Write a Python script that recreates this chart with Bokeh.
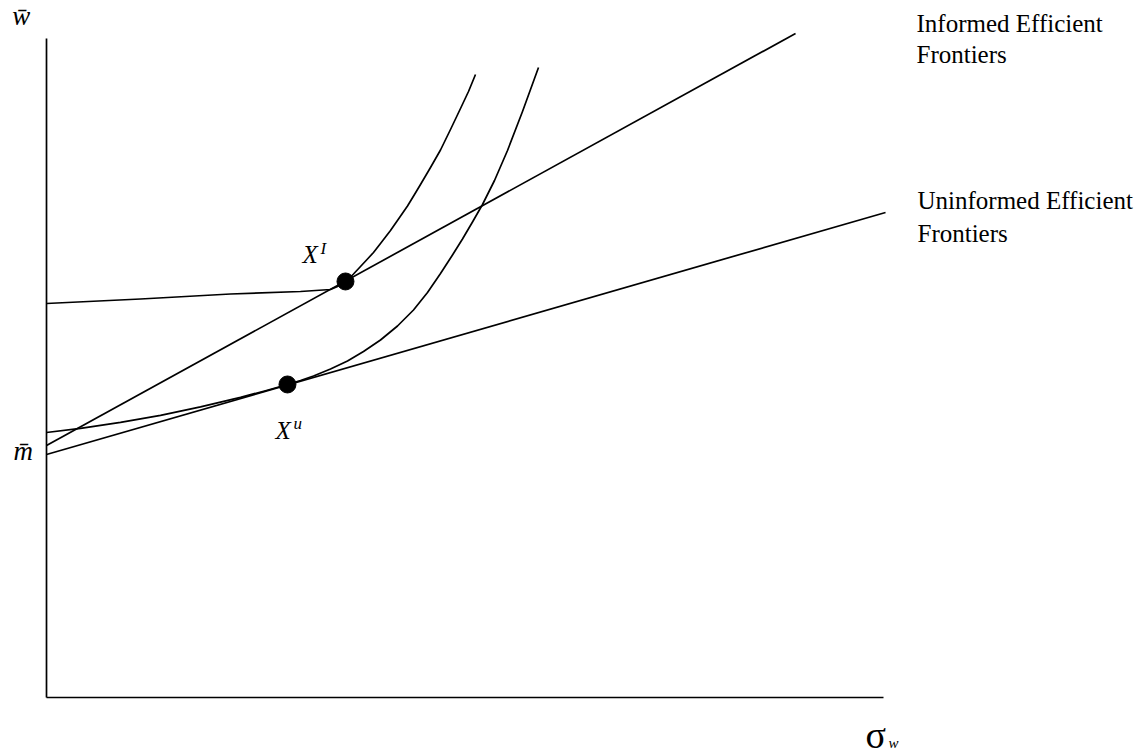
from bokeh.plotting import figure
from bokeh.models import Range1d, Label
from bokeh.embed import file_html
from bokeh.resources import INLINE

# ---- data (arbitrary units: axes span 0..100) ----
axis_sigma = [0, 100]
axis_mean = [0, 100]

informed_sigma = [0, 11.231, 21.983, 30.346, 33.931, 34.767, 35.723, 36.201, 36.679, 37.515,
                  38.351, 39.068, 39.904, 41.099, 42.055, 43.130, 43.966, 44.683, 45.878,
                  47.073, 48.267, 49.462, 50.418, 51.254]
informed_mean = [59.788, 60.470, 61.229, 61.608, 61.912, 62.367, 63.126, 63.657, 64.264, 65.402,
                 66.540, 67.527, 68.892, 70.865, 72.610, 74.583, 76.328, 77.845, 80.425,
                 83.080, 86.191, 89.378, 91.957, 94.537]

uninformed_sigma = [0, 4.062, 8.841, 13.620, 18.399, 23.178, 26.165, 28.793, 30.346, 31.900,
                    33.931, 35.962, 37.873, 39.904, 41.935, 43.847, 45.520, 47.073, 48.506,
                    49.701, 50.896, 52.091, 53.525, 55.078, 56.870, 58.781]
uninformed_mean = [40.212, 40.834, 41.745, 42.822, 44.097, 45.539, 46.555, 47.496, 48.103, 48.786,
                   49.848, 51.062, 52.504, 54.249, 56.373, 58.801, 61.457, 64.340, 67.147,
                   69.575, 72.155, 74.810, 78.452, 83.005, 88.923, 95.599]

informed_line_sigma = [0, 89.49]
informed_line_mean = [38.24, 100.76]

uninformed_line_sigma = [0, 100.24]
uninformed_line_mean = [36.87, 73.60]

tangency_sigma = [35.72, 28.79]
tangency_mean = [63.13, 47.50]

FONT = "Liberation Serif"

p = figure(width=1148, height=756, output_backend="svg", toolbar_location=None,
           x_range=Range1d(-5.496, 131.660), y_range=Range1d(-8.953, 105.766),
           min_border=0, outline_line_color=None)
p.axis.visible = False
p.grid.visible = False
p.background_fill_color = "white"
p.border_fill_color = "white"

lw = 1.7
# axes
p.line([axis_sigma[0], axis_sigma[0]], [axis_mean[0], axis_mean[1]], line_color="black", line_width=lw)
p.line([axis_sigma[0], axis_sigma[1]], [axis_mean[0], axis_mean[0]], line_color="black", line_width=lw)

# frontiers
p.line(informed_sigma, informed_mean, line_color="black", line_width=lw, line_join="round")
p.line(uninformed_sigma, uninformed_mean, line_color="black", line_width=lw, line_join="round")
p.line(informed_line_sigma, informed_line_mean, line_color="black", line_width=lw)
p.line(uninformed_line_sigma, uninformed_line_mean, line_color="black", line_width=lw)

p.scatter(tangency_sigma, tangency_mean, size=17, color="black")

def lab(x, y, text, size, style="normal"):
    p.add_layout(Label(x=x, y=y, text=text, text_font=FONT, text_font_size=size,
                       text_font_style=style, text_color="black",
                       text_baseline="alphabetic", text_align="left"))

lab(103.94, 102.28, "Informed Efficient", "25px")
lab(103.94, 97.58, "Frontiers", "25px")
lab(104.06, 75.42, "Uninformed Efficient", "25px")
lab(104.06, 70.41, "Frontiers", "25px")

lab(30.59, 67.23, "X", "25px", "italic")
lab(32.74, 68.14, "I", "17px", "italic")
lab(27.36, 40.52, "X", "25px", "italic")
lab(29.51, 41.58, "u", "17px", "italic")

lab(-3.94, 37.33, "m\u0304", "27px", "italic")
lab(-4.1, 103.37, "w\u0304", "27px", "italic")

lab(97.85, -5.615, "\u03c3", "38px")
lab(100.6, -6.98, "w", "15px", "italic")

open("out.html", "w").write(file_html(p, INLINE))
